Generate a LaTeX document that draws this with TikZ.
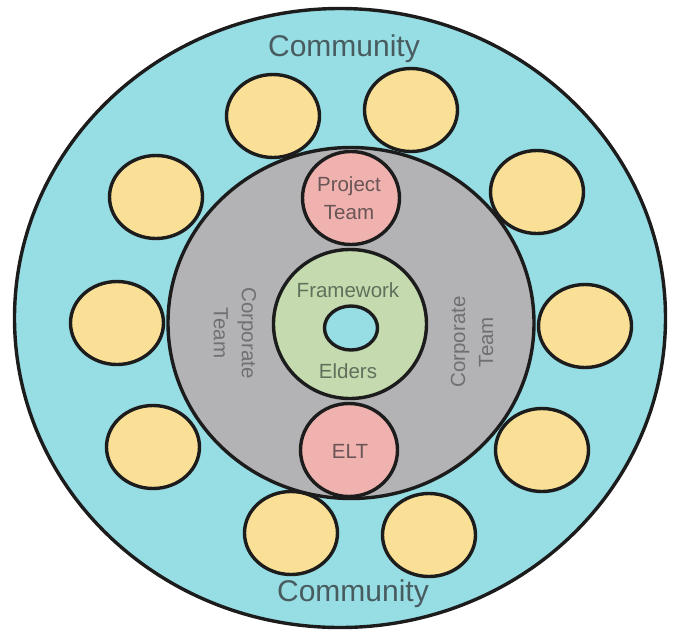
\documentclass[tikz,border=0pt]{standalone}
\usepackage{fontspec}
\setmainfont{Liberation Sans}
\usetikzlibrary{shapes.geometric}

\definecolor{outline}{RGB}{28,28,28}
\definecolor{community}{RGB}{150,221,228}
\definecolor{corporate}{RGB}{179,179,181}
\definecolor{seat}{RGB}{250,224,150}
\definecolor{leader}{RGB}{240,178,175}
\definecolor{framework}{RGB}{197,218,174}
\definecolor{txtcommunity}{RGB}{72,92,96}
\definecolor{txtcorporate}{RGB}{112,112,115}
\definecolor{txtleader}{RGB}{105,85,85}
\definecolor{txtframework}{RGB}{98,112,92}

\begin{document}
\begin{tikzpicture}[x=1pt,y=-1pt,
  blob/.style={ellipse, draw=outline, line width=3.4pt, inner sep=0pt},
  member/.style={blob, fill=seat, minimum width=93pt, minimum height=83pt},
  leaderbox/.style={blob, fill=leader, minimum width=97pt, minimum height=93pt},
  bigtext/.style={font=\fontsize{30}{36}\selectfont, text=txtcommunity},
  smalltext/.style={font=\fontsize{20.5}{28}\selectfont, align=center}
]
\useasboundingbox (0,0) rectangle (675,633);

% outer community ring
\node[blob, fill=community, minimum width=651pt, minimum height=619pt] (outer) at (340,318) {};

% corporate ring
\node[blob, fill=corporate, minimum width=366pt, minimum height=351pt] (corp) at (351,323) {};

% framework ring with its hole
\node[blob, fill=framework, minimum width=153pt, minimum height=149pt] (frame) at (350,324) {};
\node[blob, fill=community, minimum width=53pt, minimum height=44pt] (hole) at (351,328) {};

% community members
\node[member] (m1) at (273,116) {};
\node[member] (m2) at (411,110) {};
\node[member] (m3) at (156,197) {};
\node[member] (m4) at (537,192) {};
\node[member] (m5) at (117,323) {};
\node[member] (m6) at (585,326) {};
\node[member] (m7) at (153,447) {};
\node[member] (m8) at (542,450) {};
\node[member] (m9) at (291,533) {};
\node[member] (m10) at (429,535) {};

% project team and leadership
\node[leaderbox] (project) at (351,198) {};
\node[leaderbox] (elt) at (349,450) {};

% labels
\node[bigtext, anchor=base] (ctop) at (344,56) {Community};
\node[bigtext, anchor=base] (cbot) at (353,601) {Community};
\node[smalltext, text=txtleader] (ptlabel) at (349,198.5) {Project\\Team};
\node[smalltext, text=txtleader, anchor=base] (eltlabel) at (350,458) {ELT};
\node[smalltext, text=txtframework, anchor=base] (fwlabel) at (348,297) {Framework};
\node[smalltext, text=txtframework, anchor=base] (eldlabel) at (348,378) {Elders};
\node[smalltext, text=txtcorporate, rotate=-90] (corpleft) at (235,333) {Corporate\\Team};
\node[smalltext, text=txtcorporate, rotate=90] (corpright) at (472,342) {Corporate\\Team};
\end{tikzpicture}
\end{document}
